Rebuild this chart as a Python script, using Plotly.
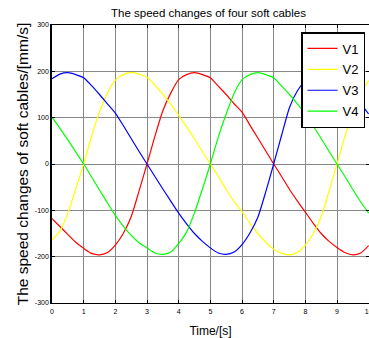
import plotly.graph_objects as go

# Time axis samples (s)
time_s = [0, 0.25, 0.5, 0.75, 1, 1.25, 1.5, 1.75, 2, 2.25, 2.5, 2.75, 3, 3.25, 3.5, 3.75,
          4, 4.25, 4.5, 4.75, 5, 5.25, 5.5, 5.75, 6, 6.25, 6.5, 6.75, 7, 7.25, 7.5, 7.75,
          8, 8.25, 8.5, 8.75, 9, 9.25, 9.5, 9.75, 10]

# Speeds (mm/s)
v1 = [-118, -135, -152, -169, -182, -193, -196, -191, -175, -150, -114, -58, 0, 60, 115, 153,
      182, 193, 197, 193, 186, 168, 150, 130, 112, 84, 56, 28, 0, -27, -55, -80,
      -104, -128, -150, -167, -180, -191, -196, -192, -176]
v2 = [-164, -145, -106, -54, 0, 60, 112, 153, 181, 193, 197, 194, 187, 170, 151, 129,
      105, 80, 54, 27, 0, -27, -55, -81, -103, -128, -150, -169, -184, -193, -196, -191,
      -175, -150, -114, -58, 0, 60, 115, 153, 180]
v3 = [184, 194, 197, 193, 186, 169, 150, 130, 110, 83, 55, 27, 0, -27, -54, -80,
      -106, -129, -150, -167, -181, -192, -195, -190, -174, -149, -115, -60, 0, 62, 122, 158,
      180, 193, 197, 193, 185, 168, 150, 130, 108]
v4 = [101, 77, 52, 26, 0, -28, -56, -84, -111, -134, -154, -170, -181, -192, -195, -190,
      -172, -147, -105, -54, 0, 58, 108, 152, 182, 193, 197, 193, 186, 168, 150, 130,
      108, 82, 55, 27, 0, -27, -55, -82, -106]

series_names = ["V1", "V2", "V3", "V4"]
series_values = [v1, v2, v3, v4]
series_colors = ["#ff0000", "#ffff00", "#0000ff", "#00ff00"]

x_ticks = [0, 1, 2, 3, 4, 5, 6, 7, 8, 9, 10]
y_ticks = [-300, -200, -100, 0, 100, 200, 300]

FONT = "Liberation Sans, Arial, sans-serif"

fig = go.Figure()
for name, vals, col in zip(series_names, series_values, series_colors):
    fig.add_trace(go.Scatter(
        x=time_s, y=vals, mode="lines", name=name,
        line=dict(color=col, width=1.2, shape="spline", smoothing=0.6),
        legendgroup=name,
    ))

fig.update_layout(
    width=369, height=338,
    margin=dict(l=52, r=0, t=25, b=35, autoexpand=False),
    paper_bgcolor="white", plot_bgcolor="white",
    title=dict(text="The speed changes of four soft cables", x=0.565, xref="container",
               xanchor="center", y=1 - 12.7 / 338, yref="container", yanchor="middle",
               font=dict(family=FONT, size=11.5, color="black")),
    showlegend=True,
    legend=dict(x=(365 - 52) / 317, xanchor="right", y=1 - (32 - 25) / 278, yanchor="top",
                bgcolor="white", bordercolor="black", borderwidth=1.5,
                font=dict(family=FONT, size=13, color="black"),
                tracegroupgap=1, itemwidth=30),
)

fig.update_xaxes(
    range=[0, 10.01], tickvals=x_ticks, ticktext=[str(t) for t in x_ticks],
    showgrid=True, gridcolor="#888888", gridwidth=1, zeroline=False,
    showline=True, linecolor="black", linewidth=1, mirror="ticks",
    ticks="inside", ticklen=3, tickcolor="black", tickwidth=1,
    tickfont=dict(family=FONT, size=7, color="black"), ticklabelstandoff=2,
    ticklabeloverflow="allow",
    title=dict(text="Time/[s]", font=dict(family=FONT, size=12, color="black"), standoff=14),
    automargin=False,
)
fig.update_yaxes(
    range=[-300, 300], tickvals=y_ticks, ticktext=[str(t) for t in y_ticks],
    showgrid=True, gridcolor="#888888", gridwidth=1, zeroline=False,
    showline=True, linecolor="black", linewidth=1.5, mirror="ticks",
    ticks="inside", ticklen=3, tickcolor="black", tickwidth=1,
    tickfont=dict(family=FONT, size=7, color="black"),
    title=dict(text="The speed changes of soft cables/[mm/s]",
               font=dict(family=FONT, size=15.5, color="black"), standoff=2),
    automargin=False,
)

fig.write_html("out.html", config={"displayModeBar": False},
               post_script="document.body.style.margin='0';")
